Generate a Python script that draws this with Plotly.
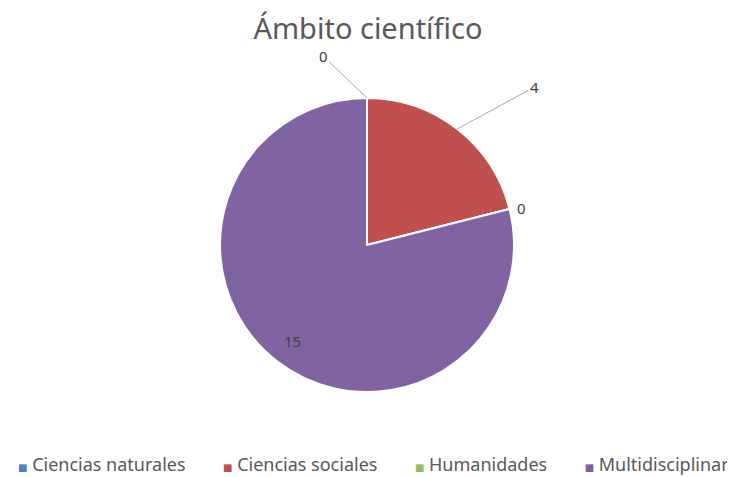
import math
import plotly.graph_objects as go

title_text = "Ámbito científico"
categories = ["Ciencias naturales", "Ciencias sociales", "Humanidades", "Multidisciplinar"]
values = [0, 4, 0, 15]
colors = ["#4F81BD", "#C0504D", "#9BBB59", "#8064A2"]

# The page body adds an 8px margin, so the figure is sized/positioned to fit the window.
OFF = 8
W, H = 735 - OFF, 477 - OFF
CX, CY, R = 367 - OFF, 245 - OFF, 147  # pie centre / radius in figure pixels (layout)


def px_x(x):
    return x / W


def px_y(y):
    return 1 - y / H


fig = go.Figure(go.Pie(
    labels=categories,
    values=values,
    marker=dict(colors=colors, line=dict(color="white", width=2)),
    sort=False,
    direction="clockwise",
    rotation=0,
    textinfo="none",
    hoverinfo="label+value",
    showlegend=False,
    domain=dict(x=[px_x(CX - R), px_x(CX + R)], y=[px_y(CY + R), px_y(CY - R)]),
))

# label placement (layout offsets per slice, in pixels)
label_style = [
    dict(mode="out", ax=-44, ay=-42),
    dict(mode="out", ax=77, ay=-42),
    dict(mode="near", dx=12, dy=1),
    dict(mode="in", frac=0.83),
]
label_font = dict(size=15, color="#404040")

total = sum(values)
cum = 0
annotations = []
for v, st in zip(values, label_style):
    mid = (cum + v / 2) / total * 2 * math.pi
    cum += v
    if st["mode"] == "in":
        lx = CX + st["frac"] * R * math.sin(mid)
        ly = CY - st["frac"] * R * math.cos(mid)
        annotations.append(dict(x=px_x(lx), y=px_y(ly), xref="paper", yref="paper",
                                xanchor="center", yanchor="middle",
                                text=str(v), showarrow=False, font=label_font))
    else:
        ex = CX + R * math.sin(mid)
        ey = CY - R * math.cos(mid)
        if st["mode"] == "out":
            annotations.append(dict(x=px_x(ex), y=px_y(ey), xref="paper", yref="paper",
                                    text=str(v), showarrow=True, arrowhead=0, arrowwidth=1,
                                    arrowcolor="#A6A6A6", ax=st["ax"], ay=st["ay"],
                                    font=label_font))
        else:
            annotations.append(dict(x=px_x(ex), y=px_y(ey), xref="paper", yref="paper",
                                    xanchor="center", yanchor="middle",
                                    text=str(v), showarrow=False, xshift=st["dx"], yshift=st["dy"],
                                    font=label_font))

# legend row (drawn as one text line: coloured squares + category names)
legend_parts = [
    f"<span style='color:{c};font-size:10px'>\u25A0</span>\u00a0{cat}"
    for cat, c in zip(categories, colors)
]
legend_text = ("\u00a0" * 8).join(legend_parts)
annotations.append(dict(x=px_x(373 - OFF), y=px_y(464 - OFF), xref="paper", yref="paper",
                        text=legend_text, showarrow=False, xanchor="center", yanchor="middle",
                        font=dict(size=18, color="#595959")))

fig.update_layout(
    width=W, height=H,
    margin=dict(l=0, r=0, t=0, b=0),
    paper_bgcolor="white",
    plot_bgcolor="white",
    font=dict(family="Noto Sans, Open Sans, DejaVu Sans, sans-serif", color="#595959"),
    title=dict(text=title_text, x=px_x(368 - OFF), xanchor="center", y=px_y(29 - OFF),
               yanchor="middle", font=dict(size=29, color="#595959")),
    showlegend=False,
    annotations=annotations,
)

fig.write_html("out.html")
